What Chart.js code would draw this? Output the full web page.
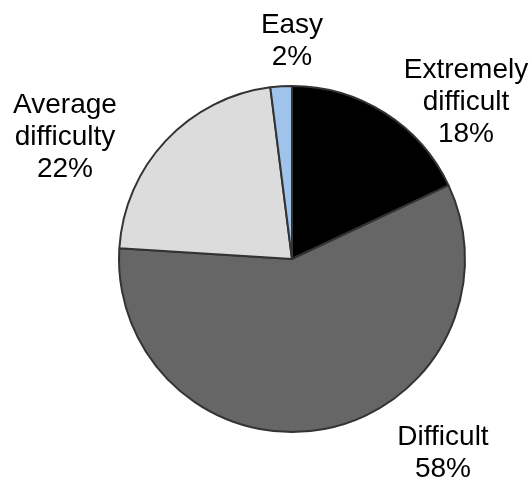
<!DOCTYPE html>
<html>
<head>
<meta charset="utf-8">
<script src="https://cdn.jsdelivr.net/npm/chart.js@4.4.1/dist/chart.umd.min.js"></script>
<style>
  html, body { margin: 0; padding: 0; background: #ffffff; }
  #wrap { width: 532px; height: 477px; position: relative; }
</style>
</head>
<body>
<div id="wrap"><canvas id="chart" width="532" height="477"></canvas></div>
<script>
// Survey answers: how difficult respondents found the task
const categories = ['Extremely difficult', 'Difficult', 'Average difficulty', 'Easy'];
const percentages = [18, 58, 22, 2];
const sliceColors = ['#000000', '#666666', '#dcdcdc', '#a0c3eb'];

// Where each label block sits, relative to the pie centre (first line baseline)
const labelOffsets = [
  { dx: 174, dy: -181 },
  { dx: 151, dy: 186 },
  { dx: -227, dy: -146 },
  { dx: 0, dy: -226 }
];

const outsideLabels = {
  id: 'outsideLabels',
  afterDatasetsDraw(chart) {
    const ctx = chart.ctx;
    const meta = chart.getDatasetMeta(0);
    ctx.save();
    ctx.font = '28px "Liberation Sans", Arial, sans-serif';
    ctx.fillStyle = '#000000';
    ctx.textAlign = 'center';
    ctx.textBaseline = 'alphabetic';
    const lineHeight = 32;
    meta.data.forEach((arc, i) => {
      const lines = categories[i].split(' ');
      lines.push(percentages[i] + '%');
      const off = labelOffsets[i];
      const x = arc.x + off.dx;
      let y = arc.y + off.dy;
      lines.forEach((t) => {
        ctx.fillText(t, x, y);
        y += lineHeight;
      });
    });
    ctx.restore();
  }
};

new Chart(document.getElementById('chart'), {
  type: 'pie',
  data: {
    labels: categories,
    datasets: [{
      data: percentages,
      backgroundColor: sliceColors,
      borderColor: '#333333',
      borderWidth: 2,
      hoverOffset: 0
    }]
  },
  options: {
    responsive: false,
    animation: false,
    events: [],
    layout: { padding: { left: 118, top: 85, right: 66, bottom: 44 } },
    plugins: {
      legend: { display: false },
      tooltip: { enabled: false }
    }
  },
  plugins: [outsideLabels]
});
</script>
</body>
</html>
